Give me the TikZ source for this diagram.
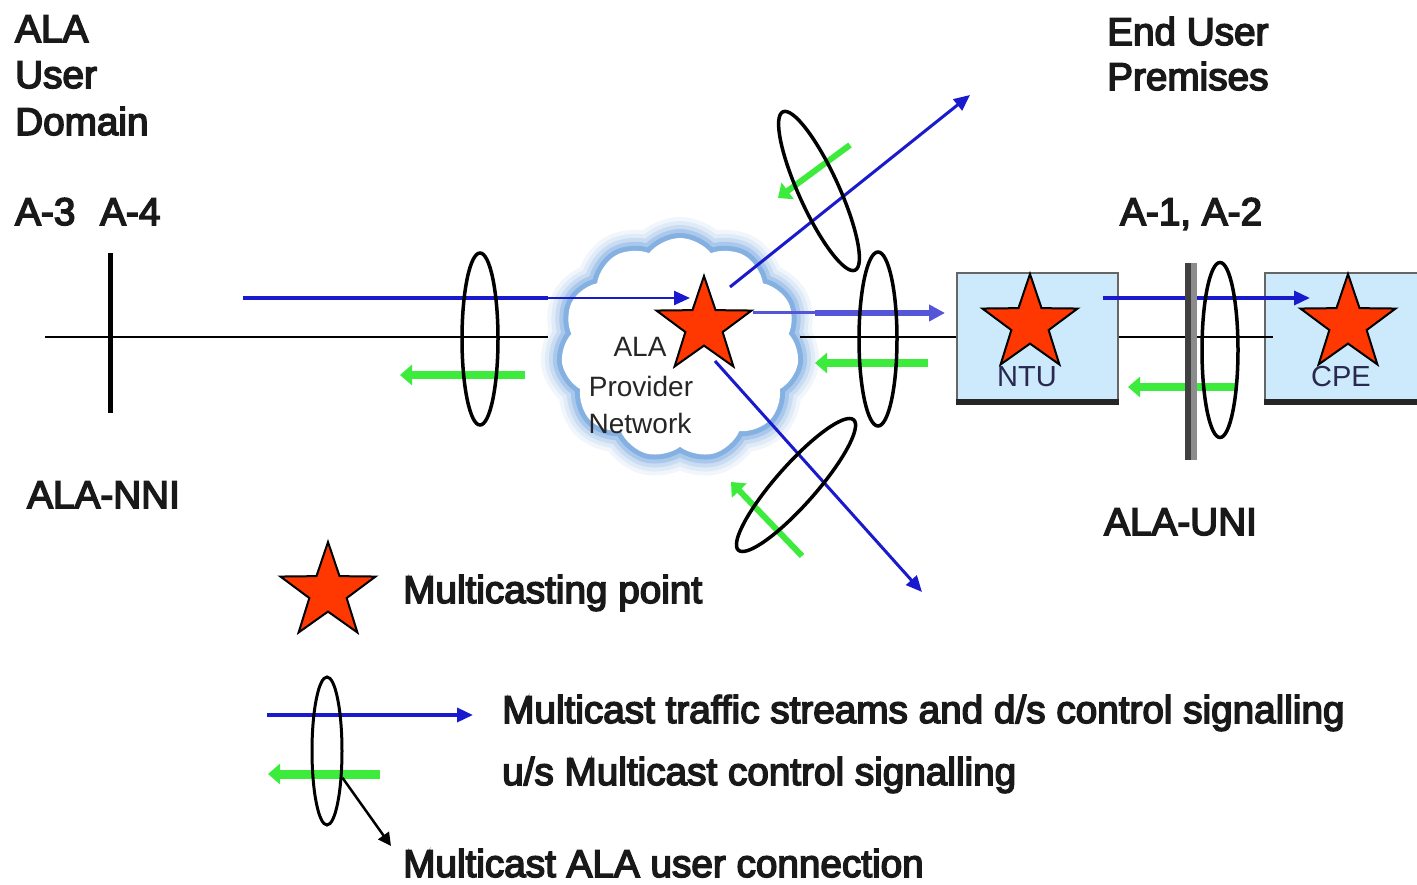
\documentclass[tikz,border=0pt]{standalone}
\usepackage{fontspec}
\setmainfont{Liberation Sans}
\newfontfamily\heavyfont{Liberation Sans}[FakeBold=4]
\usetikzlibrary{shapes.geometric,shapes.symbols,arrows.meta}
\definecolor{fblue}{RGB}{25,25,205}
\definecolor{lblue}{RGB}{85,85,215}
\definecolor{fgreen}{RGB}{60,235,60}
\definecolor{starred}{RGB}{255,55,0}
\definecolor{boxfill}{RGB}{204,234,251}
\definecolor{glow}{RGB}{85,145,215}
\definecolor{navy}{RGB}{40,40,80}
\tikzset{
  lbl/.style={font=\heavyfont\fontsize{38.7}{46}\selectfont, inner sep=0pt, anchor=base west, text=black!90},
  cloudtxt/.style={font=\fontsize{28}{37}\selectfont, inner sep=0pt, anchor=base, text=black!85},
  boxtxt/.style={font=\fontsize{29}{35}\selectfont, inner sep=0pt, anchor=base, text=navy},
  ring/.style={draw=black, ellipse, line width=3.5pt, inner sep=0pt},
  mstar/.style={star, star points=5, star point ratio=2.55, fill=starred, draw=black, line width=2pt, inner sep=0pt, minimum size=100pt},
  fwd/.style={draw=fblue, line width=3.5pt, -{Triangle[length=16pt,width=14pt]}},
  back/.style={draw=fgreen, line width=8pt, -{Triangle[length=12pt,width=20pt]}},
  wire/.style={draw=black, line width=2.5pt},
  unitbox/.style={draw=black!60, line width=2pt, fill=boxfill, inner sep=0pt, minimum height=131pt},
}
\begin{document}
\begin{tikzpicture}[x=1pt,y=-1pt]
\clip (0,0) rectangle (1417,885);
\fill[white] (0,0) rectangle (1417,885);

% cloud
\node[cloud, cloud puffs=11, cloud puff arc=105, aspect=1.05, minimum width=238pt, minimum height=220pt, inner sep=0pt,
  preaction={draw=glow!8, line width=42pt},
  preaction={draw=glow!18, line width=34pt},
  preaction={draw=glow!32, line width=26pt},
  preaction={draw=glow!50, line width=18pt},
  preaction={draw=glow!72, line width=10pt},
  fill=white] (net) at (680,348) {};

% labels
\node[lbl] (t1) at (15,42) {ALA};
\node[lbl] (t2) at (15,88) {User};
\node[lbl] (t3) at (15,135) {Domain};
\node[lbl] (a3) at (15,225) {A-3};
\node[lbl] (a4) at (100,225) {A-4};
\node[lbl] (nni) at (27,508) {ALA-NNI};
\node[lbl] (e1) at (1107,45) {End User};
\node[lbl] (e2) at (1107,90) {Premises};
\node[lbl] (a12) at (1120,225) {A-1, A-2};
\node[lbl] (uni) at (1104,535) {ALA-UNI};
\node[lbl] (lg1) at (403,603) {Multicasting point};
\node[lbl] (lg2) at (502,723) {Multicast traffic streams and d/s control signalling};
\node[lbl] (lg3) at (502,785) {u/s Multicast control signalling};
\node[lbl] (lg4) at (403,877) {Multicast ALA user connection};

\node[cloudtxt] (c1) at (640,357) {ALA};
\node[cloudtxt] (c2) at (641,396) {Provider};
\node[cloudtxt] (c3) at (640,433) {Network};

% boxes
\node[unitbox, minimum width=161pt] (ntu) at (1037.5,338.5) {};
\fill[black!85] ([yshift=6pt]ntu.south west) rectangle (ntu.south east);
\node[unitbox, minimum width=175pt] (cpe) at (1352.5,338.5) {};
\fill[black!85] ([yshift=6pt]cpe.south west) rectangle (cpe.south east);

% NNI boundary and wires
\coordinate (nniT) at (110,253);
\coordinate (nniB) at (110,413);
\draw[line width=5pt] (nniT) -- (nniB);
\coordinate (w1a) at (45,337);
\coordinate (w1b) at (548,337);
\coordinate (w2a) at (800,337);
\coordinate (w3b) at (1273,337);
\draw[wire] (w1a) -- (w1b);
\draw[wire] (w2a) -- (ntu.west |- w2a);
\draw[wire] (ntu.east |- w2a) -- (w3b);

% blue streams
\coordinate (b1s) at (243,298);
\coordinate (b1m) at (548,298);
\coordinate (b1e) at (690,298);
\draw[draw=fblue, line width=4pt] (b1s) -- (b1m);
\draw[fwd, line width=2.5pt] (b1m) -- (b1e);
\coordinate (b2s) at (730,287);
\coordinate (b2e) at (970,95);
\draw[fwd, line width=3pt] (b2s) -- (b2e);
\coordinate (b3s) at (753,313);
\coordinate (b3m) at (815,313);
\coordinate (b3e) at (945,313);
\draw[draw=lblue, line width=3pt] (b3s) -- (b3m);
\draw[draw=lblue, line width=6pt, -{Triangle[length=16pt,width=16pt]}] (b3m) -- (b3e);
\coordinate (b4s) at (715,361);
\coordinate (b4e) at (922,592);
\draw[fwd, line width=3pt] (b4s) -- (b4e);
\coordinate (b5s) at (1103,298);
\coordinate (b5e) at (1310,298);
\draw[fwd] (b5s) -- (b5e);

% green signalling
\coordinate (g1s) at (525,375);
\coordinate (g1e) at (400,375);
\draw[back] (g1s) -- (g1e);
\coordinate (g2s) at (928,363);
\coordinate (g2e) at (815,363);
\draw[back] (g2s) -- (g2e);
\coordinate (g3s) at (1238,387);
\coordinate (g3e) at (1128,387);
\draw[back] (g3s) -- (g3e);
\coordinate (g4s) at (850,145);
\coordinate (g4e) at (778,198);
\draw[back, line width=6pt] (g4s) -- (g4e);
\coordinate (g5s) at (802,556);
\coordinate (g5e) at (731,482);
\draw[back, line width=6pt] (g5s) -- (g5e);

% UNI boundary bar
\fill[black!75] (1185,263) rectangle (1191,460);
\fill[black!45] (1191,263) rectangle (1197,460);

% connection rings
\node[ring, minimum width=36pt, minimum height=172pt] (r1) at (480,339) {};
\node[ring, minimum width=38pt, minimum height=174pt] (r2) at (878,339) {};
\node[ring, minimum width=40pt, minimum height=174pt, rotate=24.5] (r3) at (819,191) {};
\node[ring, minimum width=40pt, minimum height=174pt, rotate=-41.5] (r4) at (796,485) {};
\node[ring, minimum width=36pt, minimum height=175pt] (r5) at (1220,350) {};

% stars
\node[mstar] (s0) at (704,326) {};
\node[mstar] (s1) at (1030,324) {};
\node[mstar] (s2) at (1348,324) {};
\node[boxtxt] (ntut) at (1027,386) {NTU};
\node[boxtxt] (cpet) at (1341,386) {CPE};

% legend
\node[mstar] (ls) at (328,592) {};
\coordinate (lb1) at (267,715);
\coordinate (lb2) at (473,715);
\draw[fwd] (lb1) -- (lb2);
\coordinate (lg1s) at (380,774);
\coordinate (lg1e) at (268,774);
\draw[back, line width=9pt] (lg1s) -- (lg1e);
\node[ring, minimum width=30pt, minimum height=148pt, line width=3pt] (lr) at (327,751) {};
\coordinate (lpt) at (391,846);
\draw[line width=2.5pt, -{Triangle[length=13pt,width=13pt]}] (lr.-60) -- (lpt);
\end{tikzpicture}
\end{document}
